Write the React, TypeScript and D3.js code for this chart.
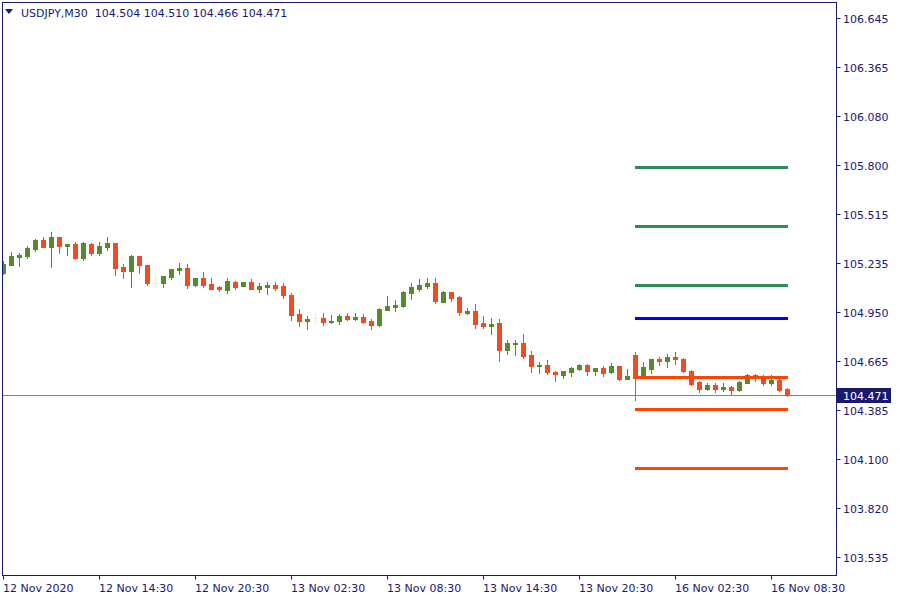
import React from 'react';
import { useRef, useEffect } from 'react';
import * as d3 from 'd3';

const symbol = 'USDJPY,M30';

// OHLC, one per 30 minute bar, 12 Nov 08:30 -> 16 Nov 09:30
const opens = [
  105.175, 105.221, 105.268, 105.273, 105.314, 105.366, 105.325, 105.383, 105.331, 105.343,
  105.262, 105.343, 105.291, 105.325, 105.348, 105.21, 105.187, 105.273, 105.221, 105.118,
  105.118, 105.152, 105.193, 105.204, 105.106, 105.146, 105.112, 105.095, 105.077, 105.123,
  105.1, 105.123, 105.083, 105.095, 105.106, 105.1, 105.048, 104.939, 104.898, 104.916,
  104.916, 104.893, 104.898, 104.927, 104.91, 104.921, 104.898, 104.875, 104.962, 104.979,
  104.985, 105.06, 105.083, 105.1, 105.118, 105.008, 105.066, 105.037, 104.945, 104.956,
  104.887, 104.869, 104.887, 104.731, 104.766, 104.771, 104.702, 104.639, 104.644, 104.604,
  104.587, 104.604, 104.621, 104.644, 104.61, 104.627, 104.604, 104.639, 104.564, 104.702,
  104.575, 104.621, 104.679, 104.668, 104.691, 104.679, 104.61, 104.546, 104.506, 104.529,
  104.506, 104.518, 104.5, 104.541, 104.587, 104.581, 104.541, 104.558, 104.504,
];
const highs = [
  105.245, 105.297, 105.291, 105.331, 105.372, 105.383, 105.412, 105.383, 105.343, 105.354,
  105.354, 105.348, 105.354, 105.383, 105.348, 105.227, 105.279, 105.273, 105.221, 105.17,
  105.158, 105.198, 105.233, 105.227, 105.146, 105.181, 105.146, 105.1, 105.146, 105.129,
  105.123, 105.141, 105.118, 105.123, 105.123, 105.118, 105.06, 104.968, 104.927, 104.945,
  104.945, 104.933, 104.939, 104.945, 104.945, 104.939, 104.91, 104.973, 105.043, 105.02,
  105.071, 105.118, 105.141, 105.146, 105.146, 105.071, 105.066, 105.043, 104.973, 104.996,
  104.927, 104.916, 104.91, 104.789, 104.789, 104.823, 104.725, 104.662, 104.673, 104.61,
  104.61, 104.633, 104.65, 104.65, 104.627, 104.639, 104.656, 104.639, 104.621, 104.719,
  104.662, 104.679, 104.691, 104.708, 104.719, 104.685, 104.616, 104.552, 104.541, 104.541,
  104.541, 104.523, 104.552, 104.592, 104.592, 104.587, 104.587, 104.564, 104.51,
];
const lows = [
  105.17, 105.221, 105.216, 105.262, 105.302, 105.325, 105.21, 105.291, 105.279, 105.256,
  105.25, 105.279, 105.279, 105.308, 105.164, 105.146, 105.095, 105.175, 105.106, 105.089,
  105.095, 105.141, 105.17, 105.089, 105.1, 105.095, 105.083, 105.071, 105.06, 105.083,
  105.1, 105.083, 105.066, 105.054, 105.077, 105.031, 104.904, 104.869, 104.852, 104.887,
  104.875, 104.887, 104.881, 104.904, 104.904, 104.887, 104.852, 104.869, 104.962, 104.956,
  104.979, 105.025, 105.071, 105.089, 105.002, 105.008, 105.014, 104.933, 104.939, 104.858,
  104.858, 104.823, 104.668, 104.708, 104.702, 104.685, 104.604, 104.598, 104.592, 104.552,
  104.569, 104.581, 104.616, 104.587, 104.587, 104.581, 104.598, 104.558, 104.564, 104.443,
  104.569, 104.598, 104.644, 104.633, 104.65, 104.604, 104.529, 104.489, 104.5, 104.489,
  104.494, 104.477, 104.494, 104.541, 104.552, 104.529, 104.529, 104.494, 104.466,
];
const closes = [
  105.227, 105.273, 105.279, 105.32, 105.366, 105.325, 105.383, 105.331, 105.343, 105.262,
  105.348, 105.291, 105.331, 105.348, 105.204, 105.187, 105.273, 105.221, 105.118, 105.118,
  105.158, 105.198, 105.204, 105.106, 105.146, 105.106, 105.083, 105.083, 105.129, 105.095,
  105.123, 105.083, 105.1, 105.106, 105.089, 105.048, 104.933, 104.898, 104.91, 104.916,
  104.893, 104.898, 104.927, 104.91, 104.921, 104.893, 104.875, 104.968, 104.985, 104.991,
  105.066, 105.095, 105.106, 105.118, 105.014, 105.066, 105.031, 104.95, 104.956, 104.881,
  104.869, 104.881, 104.731, 104.771, 104.771, 104.696, 104.639, 104.644, 104.604, 104.592,
  104.61, 104.627, 104.644, 104.61, 104.627, 104.598, 104.639, 104.564, 104.581, 104.569,
  104.633, 104.679, 104.668, 104.691, 104.679, 104.61, 104.535, 104.506, 104.529, 104.506,
  104.518, 104.5, 104.546, 104.587, 104.575, 104.541, 104.558, 104.5, 104.471,
];

const timeLabels = [
  '12 Nov 2020', '12 Nov 14:30', '12 Nov 20:30', '13 Nov 02:30', '13 Nov 08:30',
  '13 Nov 14:30', '13 Nov 20:30', '16 Nov 02:30', '16 Nov 08:30',
];
const barsPerLabel = 12;

const priceTicks = [
  106.645, 106.365, 106.08, 105.8, 105.515, 105.235, 104.95, 104.665, 104.385, 104.1,
  103.82, 103.535,
];

// pivot levels drawn from the Monday open bar
const resistances = [105.787, 105.447, 105.106];
const pivot = 104.916;
const supports = [104.575, 104.391, 104.05];
const levelStartBar = 79;

export default function App() {
  const svgRef = useRef(null);

  useEffect(() => {
    const w = 900;
    const h = 600;
    const left = 2.5;
    const right = 836.5;
    const top = 2.5;
    const bottom = 575.5;
    const fg = '#191970';
    const bull = '#548b2e';
    const bear = '#f04b23';
    const dojiColor = '#f7e6da';

    const svg = d3.select(svgRef.current);
    svg.selectAll('*').remove();
    svg
      .attr('width', w)
      .attr('height', h)
      .style('display', 'block')
      .style('position', 'absolute')
      .style('left', '0px')
      .style('top', '0px')
      .style('background', '#ffffff')
      .style('font-family', '"DejaVu Sans", sans-serif');

    const n = closes.length;
    const x = d3.scaleLinear().domain([0, n - 1]).range([3, 3 + 8 * (n - 1)]);
    const y = d3.scaleLinear().domain([103.43, 106.736]).range([bottom, top]);

    svg
      .append('clipPath')
      .attr('id', 'plot-clip')
      .append('rect')
      .attr('x', left)
      .attr('y', top)
      .attr('width', right - left)
      .attr('height', bottom - top);

    const plot = svg.append('g').attr('clip-path', 'url(#plot-clip)');

    // bid line
    const last = closes[n - 1];
    const lastY = Math.round(y(last)) + 0.5;
    plot
      .append('line')
      .attr('x1', left)
      .attr('x2', right)
      .attr('y1', lastY)
      .attr('y2', lastY)
      .attr('stroke', '#778899')
      .attr('stroke-width', 1);

    // candles
    const bars = d3.range(n);
    const colorOf = (i: number) =>
      opens[i] === closes[i] ? dojiColor : closes[i] > opens[i] ? bull : bear;

    plot
      .selectAll('rect.wick')
      .data(bars)
      .join('rect')
      .attr('class', 'wick')
      .attr('x', (i) => x(i))
      .attr('width', 1)
      .attr('y', (i) => Math.round(y(highs[i])))
      .attr('height', (i) => Math.max(1, Math.round(y(lows[i])) - Math.round(y(highs[i])) + 1))
      .attr('fill', colorOf);

    plot
      .selectAll('rect.body')
      .data(bars)
      .join('rect')
      .attr('class', 'body')
      .attr('x', (i) => x(i) - 2)
      .attr('width', 5)
      .attr('y', (i) => Math.round(y(Math.max(opens[i], closes[i]))))
      .attr('height', (i) =>
        Math.max(
          1,
          Math.round(y(Math.min(opens[i], closes[i]))) -
            Math.round(y(Math.max(opens[i], closes[i]))) + 1
        )
      )
      .attr('fill', colorOf);

    // pivot levels
    const levels = [
      ...resistances.map((v) => ({ v, c: '#2e8b57' })),
      { v: pivot, c: '#0000ff' },
      ...supports.map((v) => ({ v, c: '#ff4500' })),
    ];
    plot
      .selectAll('line.level')
      .data(levels)
      .join('line')
      .attr('class', 'level')
      .attr('x1', x(levelStartBar))
      .attr('x2', x(n - 1) + 1)
      .attr('y1', (d) => Math.round(y(d.v)) + 0.5)
      .attr('y2', (d) => Math.round(y(d.v)) + 0.5)
      .attr('stroke', (d) => d.c)
      .attr('stroke-width', 3);

    // frame
    svg
      .append('rect')
      .attr('x', left)
      .attr('y', top)
      .attr('width', right - left)
      .attr('height', bottom - top)
      .attr('fill', 'none')
      .attr('stroke', fg)
      .attr('stroke-width', 1);

    // price axis
    const yTicks = svg.append('g');
    yTicks
      .selectAll('line')
      .data(priceTicks)
      .join('line')
      .attr('x1', right)
      .attr('x2', right + 4)
      .attr('y1', (d) => Math.round(y(d)) + 0.5)
      .attr('y2', (d) => Math.round(y(d)) + 0.5)
      .attr('stroke', fg);
    yTicks
      .selectAll('text')
      .data(priceTicks)
      .join('text')
      .attr('x', 843)
      .attr('y', (d) => Math.round(y(d)) + 4.5)
      .attr('font-size', 11)
      .attr('fill', fg)
      .text((d) => d.toFixed(3));

    // current price label
    svg
      .append('rect')
      .attr('x', 837)
      .attr('y', lastY - 7.5)
      .attr('width', 54)
      .attr('height', 15)
      .attr('fill', fg);
    svg
      .append('text')
      .attr('x', 843)
      .attr('y', lastY + 4)
      .attr('font-size', 11)
      .attr('fill', '#ffffff')
      .text(last.toFixed(3));

    // time axis
    const xTicks = timeLabels.map((t, k) => ({ t, i: k * barsPerLabel }));
    const xg = svg.append('g');
    xg.selectAll('line')
      .data(xTicks)
      .join('line')
      .attr('x1', (d) => x(d.i) + 0.5)
      .attr('x2', (d) => x(d.i) + 0.5)
      .attr('y1', bottom)
      .attr('y2', bottom + 4)
      .attr('stroke', fg);
    xg.selectAll('text')
      .data(xTicks)
      .join('text')
      .attr('x', (d) => x(d.i))
      .attr('y', 592)
      .attr('font-size', 11)
      .attr('fill', fg)
      .text((d) => d.t);

    // header
    svg
      .append('path')
      .attr('d', 'M5,9 L13,9 L9,14 Z')
      .attr('fill', fg);
    svg
      .append('text')
      .attr('x', 21)
      .attr('y', 17)
      .attr('font-size', 11)
      .attr('fill', fg)
      .style('white-space', 'pre')
      .text(
        `${symbol}  ${opens[n - 1].toFixed(3)} ${highs[n - 1].toFixed(3)} ${lows[n - 1].toFixed(3)} ${last.toFixed(3)}`
      );
  }, []);

  return <svg ref={svgRef}></svg>;
}
